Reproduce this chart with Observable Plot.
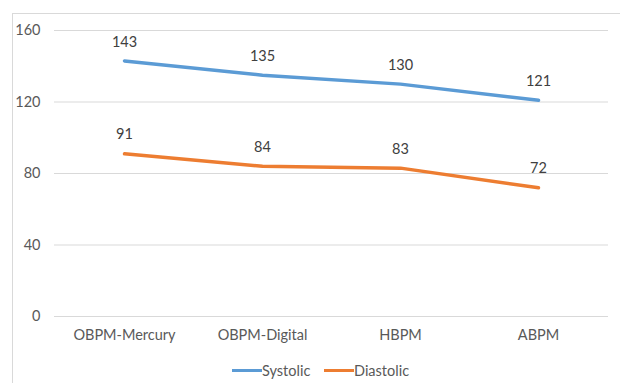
<!DOCTYPE html>
<html>
<head>
<meta charset="utf-8">
<script src="https://cdn.jsdelivr.net/npm/d3@7"></script>
<script src="https://cdn.jsdelivr.net/npm/@observablehq/plot@0.6"></script>
<style>
  html, body { margin: 0; padding: 0; background: #fff; overflow: hidden; width: 620px; height: 383px; }
  body { position: relative; font-family: Lato, "Open Sans", sans-serif; }
  #frame { position: absolute; left: 12px; top: 13px; width: 700px; height: 500px; border: 1px solid #d9d9d9; box-sizing: border-box; }
  #chart { position: absolute; left: 0; top: 0; }
  #legend { position: absolute; left: 0; top: 361px; width: 620px; height: 18px; font-size: 14.5px; color: #595959; }
  .item { position: absolute; top: 0; display: flex; align-items: center; height: 18px; }
  .sw { width: 30px; height: 3px; display: inline-block; }
</style>
</head>
<body>
<div id="frame"></div>
<div id="chart"></div>
<div id="legend"></div>
<script>
const categories = ["OBPM-Mercury", "OBPM-Digital", "HBPM", "ABPM"];
const systolic = [143, 135, 130, 121];
const diastolic = [91, 84, 83, 72];
const seriesNames = ["Systolic", "Diastolic"];
const seriesColors = ["#5B9BD5", "#ED7D31"];
const yTicks = [0, 40, 80, 120, 160];

const data = [];
categories.forEach((c, i) => {
  data.push({cat: c, value: systolic[i], series: seriesNames[0]});
  data.push({cat: c, value: diastolic[i], series: seriesNames[1]});
});

const chart = Plot.plot({
  width: 620,
  height: 350,
  marginLeft: 54,
  marginRight: 12,
  marginTop: 30,
  marginBottom: 34,
  style: {fontFamily: "Lato, 'Open Sans', sans-serif", fontSize: "14.5px", color: "#595959", background: "transparent"},
  x: {type: "point", domain: categories, padding: 0.5, label: null},
  y: {domain: [0, 160], label: null},
  color: {domain: seriesNames, range: seriesColors},
  marks: [
    Plot.ruleY(yTicks, {stroke: "#d9d9d9", strokeWidth: 1}),
    Plot.axisY({ticks: yTicks, tickSize: 0, tickPadding: 14, fontSize: 14.5, fill: "#595959", label: null}),
    Plot.axisX({tickSize: 0, tickPadding: 13, fontSize: 14.5, fill: "#595959", label: null}),
    Plot.line(data, {x: "cat", y: "value", stroke: "series", z: "series", strokeWidth: 3.5, strokeLinecap: "round", strokeLinejoin: "round"}),
    Plot.text(data, {x: "cat", y: "value", text: d => String(d.value), dy: -19, fill: "#404040", fontSize: 14.5})
  ]
});
document.getElementById("chart").appendChild(chart);

const legend = document.getElementById("legend");
const lefts = [232, 324];
seriesNames.forEach((s, i) => {
  const it = document.createElement("div");
  it.className = "item";
  it.style.left = lefts[i] + "px";
  const sw = document.createElement("span");
  sw.className = "sw";
  sw.style.background = seriesColors[i];
  const t = document.createElement("span");
  t.textContent = s;
  it.appendChild(sw);
  it.appendChild(t);
  legend.appendChild(it);
});
</script>
</body>
</html>
